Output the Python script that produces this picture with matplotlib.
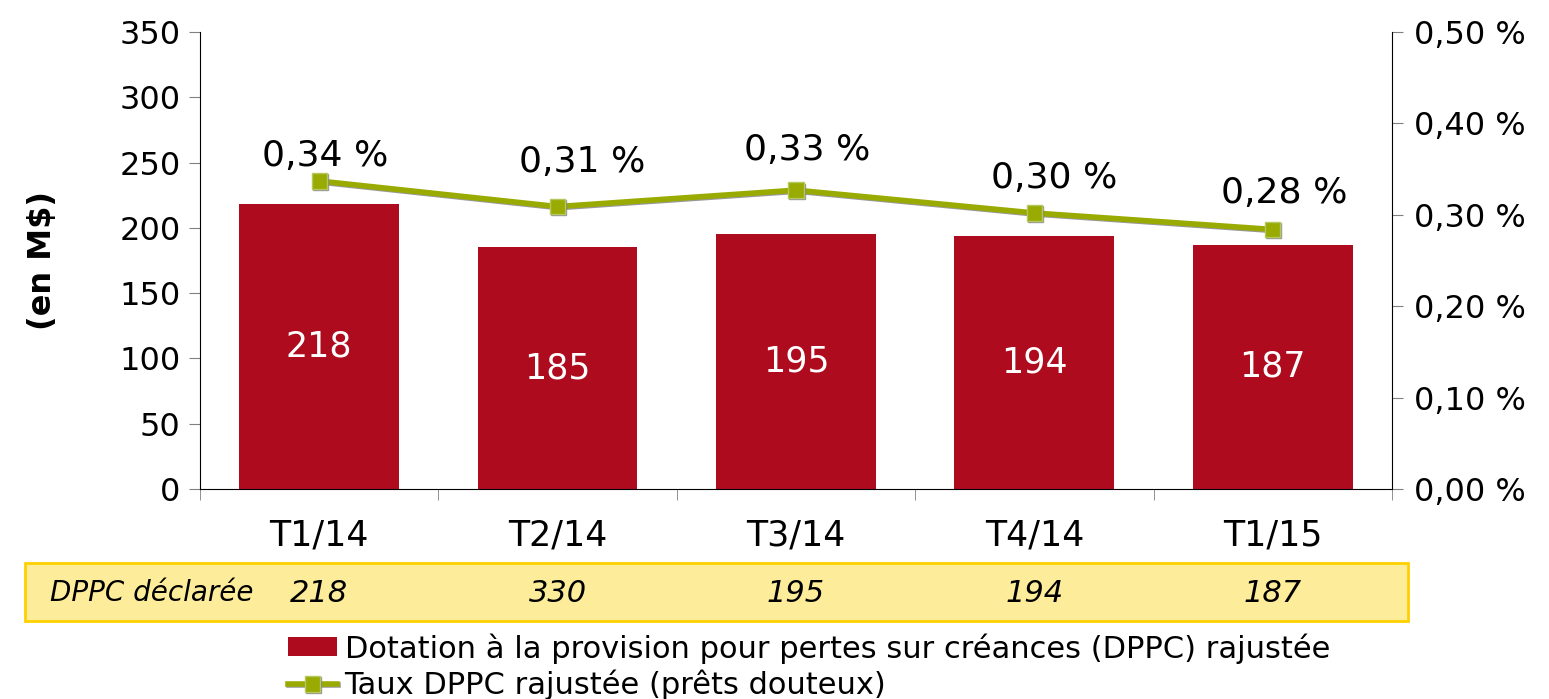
import matplotlib
matplotlib.use("Agg")
import matplotlib.pyplot as plt
import matplotlib.patheffects as pe
from matplotlib.patches import Rectangle
from matplotlib.ticker import FuncFormatter

# chart data
quarters = ["T1/14", "T2/14", "T3/14", "T4/14", "T1/15"]
dppc_adjusted = [218, 185, 195, 194, 187]
dppc_rate = [0.337, 0.309, 0.327, 0.302, 0.284]
dppc_reported = [218, 330, 195, 194, 187]

bar_label = "Dotation à la provision pour pertes sur créances (DPPC) rajustée"
line_label = "Taux DPPC rajustée (prêts douteux)"
table_label = "DPPC déclarée"

RED = "#AE0C1E"
GREEN = "#99AA00"

plt.rcParams["font.family"] = ["DejaVu Sans"]


def pct(v):
    return f"{v:.2f} %".replace(".", ",")


fig = plt.figure(figsize=(15.49, 6.99), dpi=100)
ax = fig.add_axes([0.1291, 0.3004, 0.7695, 0.6538])
ax2 = ax.twinx()

x = list(range(len(quarters)))
bars = ax.bar(x, dppc_adjusted, width=0.67, color=RED, label=bar_label, zorder=2)
for xi, v in zip(x, dppc_adjusted):
    ax.text(xi, v / 2, str(v), ha="center", va="center", color="white", fontsize=25)

line, = ax2.plot(x, dppc_rate, color=GREEN, lw=4, marker="s", markersize=11,
                 markerfacecolor=GREEN, markeredgecolor="#B5C860", markeredgewidth=1,
                 label=line_label, zorder=3,
                 path_effects=[pe.SimpleLineShadow(offset=(0.8, -0.8), shadow_color="gray", alpha=0.8),
                               pe.Normal()])
label_offsets = [(4, 6), (18, 20), (8, 17), (14, 13), (8, 14)]
for xi, v, off in zip(x, dppc_rate, label_offsets):
    ax2.annotate(pct(v), (xi, v), xytext=off, textcoords="offset points",
                 ha="center", va="bottom", fontsize=26)

ax.set_xlim(-0.5, len(quarters) - 0.5)
ax.set_ylim(0, 350)
ax.set_yticks(range(0, 351, 50))
ax2.set_ylim(0, 0.5)
ax2.set_yticks([0, 0.1, 0.2, 0.3, 0.4, 0.5])
ax2.yaxis.set_major_formatter(FuncFormatter(lambda v, p: pct(v)))

ax.set_xticks(x)
ax.set_xticklabels(quarters)
ax.set_xticks([i - 0.5 for i in range(len(quarters) + 1)], minor=True)
ax.tick_params(axis="x", which="major", length=0, pad=21, labelsize=25)
ax.tick_params(axis="x", which="minor", length=8, color="gray", direction="out")
ax.tick_params(axis="y", length=8, color="gray", labelsize=23, pad=6)
ax2.tick_params(axis="y", length=8, color="gray", labelsize=23, pad=8)

for a in (ax, ax2):
    a.spines["top"].set_visible(False)
ax.spines["right"].set_visible(False)
ax2.spines["left"].set_visible(False)
ax2.spines["bottom"].set_visible(False)

ax.set_ylabel("(en M$)", fontsize=23, fontweight="bold")
ax.yaxis.set_label_coords(-0.119, 0.5)

# reported DPPC table row
fig.patches.append(Rectangle((25 / 1549, 1 - 621 / 699), 1383 / 1549, 58 / 699,
                             transform=fig.transFigure, facecolor="#FDEC9A",
                             edgecolor="#FFD000", lw=2))
fig.text(50 / 1549, 1 - 593 / 699, table_label, fontsize=20, style="italic", va="center")
for xi, v in zip(x, dppc_reported):
    xf = fig.transFigure.inverted().transform(ax.transData.transform((xi, 0)))[0]
    fig.text(xf, 1 - 593 / 699, str(v), fontsize=22, style="italic", ha="center", va="center")

fig.legend(handles=[bars, line], loc="upper left", bbox_to_anchor=(288 / 1549, 1 - 633 / 699),
           frameon=False, fontsize=22, borderpad=0, borderaxespad=0, labelspacing=0.2,
           handlelength=1.6, handletextpad=0.25, handleheight=0.6)

fig.savefig("out.png", dpi=100)
